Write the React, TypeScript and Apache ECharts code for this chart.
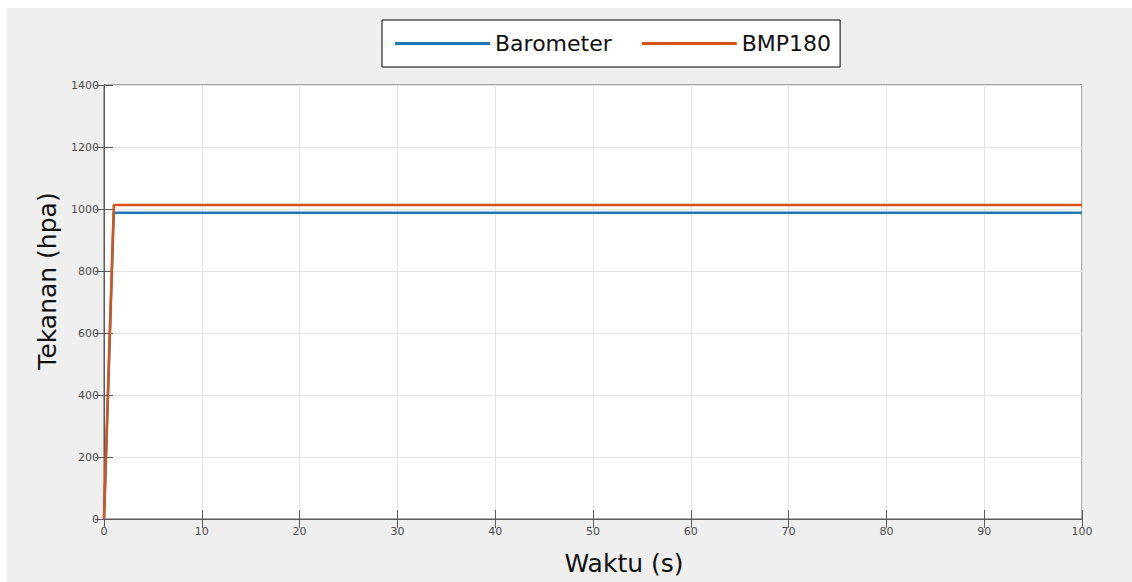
import React, { useEffect, useRef } from "react";
import * as echarts from "echarts";

const timeBarometer = [0, 1, 100];
const barometer = [0, 988, 988];
const timeBmp = [0, 1, 100];
const bmp180 = [0, 1013, 1013];
const seriesNames = ["Barometer", "BMP180"];
const xAxisName = "Waktu (s)";
const yAxisName = "Tekanan (hpa)";

const FONT = "DejaVu Sans, sans-serif";

export default function App() {
  const ref = useRef<HTMLDivElement>(null);
  useEffect(() => {
    if (!ref.current) return;
    const chart = echarts.init(ref.current, undefined, { renderer: "svg" });
    const axisLineColor = "#5a5a5a";
    const labelStyle = { color: "#4d4d4d", fontSize: 11, fontFamily: FONT };
    const plain = (v: number) => String(v);
    chart.setOption({
      animation: false,
      backgroundColor: "#efefef",
      textStyle: { fontFamily: FONT },
      grid: {
        left: 97,
        right: 50,
        top: 77,
        bottom: 63,
        show: true,
        backgroundColor: "#ffffff",
        borderColor: axisLineColor,
        borderWidth: 1,
      },
      legend: {
        data: seriesNames,
        left: 375,
        top: 12,
        padding: [12, 9, 12, 13],
        itemGap: 30,
        itemWidth: 95,
        itemHeight: 3,
        icon: "rect",
        borderColor: "#000",
        borderWidth: 1,
        backgroundColor: "#fff",
        textStyle: { color: "#111", fontSize: 22, fontFamily: FONT, lineHeight: 23 },
      },
      xAxis: [
        {
          type: "value",
          min: 0,
          max: 100,
          interval: 10,
          name: xAxisName,
          nameLocation: "middle",
          nameGap: 32,
          nameTextStyle: { color: "#111", fontSize: 25, fontFamily: FONT, padding: [0, 0, 0, 62] },
          axisLine: { show: true, lineStyle: { color: axisLineColor } },
          axisTick: { show: true, inside: true, length: 9, lineStyle: { color: axisLineColor } },
          axisLabel: { ...labelStyle, margin: 7, formatter: plain },
          splitLine: { show: true, lineStyle: { color: "#e3e3e3", width: 1 } },
        },
        {
          type: "value",
          position: "top",
          min: 0,
          max: 100,
          interval: 10,
          axisLine: { show: true, lineStyle: { color: axisLineColor } },
          axisTick: { show: true, inside: true, length: 9, lineStyle: { color: axisLineColor } },
          axisLabel: { show: false },
          splitLine: { show: false },
        },
      ],
      yAxis: [
        {
          type: "value",
          min: 0,
          max: 1400,
          interval: 200,
          name: yAxisName,
          nameLocation: "middle",
          nameGap: 43,
          nameTextStyle: { color: "#111", fontSize: 25, fontFamily: FONT, padding: [0, 0, 0, 42] },
          axisLine: { show: true, lineStyle: { color: axisLineColor } },
          axisTick: { show: true, inside: true, length: 9, lineStyle: { color: axisLineColor } },
          axisLabel: { ...labelStyle, margin: 5, formatter: plain },
          splitLine: { show: true, lineStyle: { color: "#e3e3e3", width: 1 } },
        },
        {
          type: "value",
          position: "right",
          min: 0,
          max: 1400,
          interval: 200,
          axisLine: { show: true, lineStyle: { color: axisLineColor } },
          axisTick: { show: true, inside: true, length: 9, lineStyle: { color: axisLineColor } },
          axisLabel: { show: false },
          splitLine: { show: false },
        },
      ],
      series: [
        {
          name: seriesNames[0],
          type: "line",
          data: timeBarometer.map((t, i) => [t, barometer[i]]),
          symbol: "none",
          itemStyle: { color: "#1f77b4" },
          lineStyle: { color: "#1f77b4", width: 2.5 },
          z: 2,
        },
        {
          name: seriesNames[1],
          type: "line",
          data: timeBmp.map((t, i) => [t, bmp180[i]]),
          symbol: "none",
          itemStyle: { color: "#d95319" },
          lineStyle: { color: "#d95319", width: 2.5 },
          z: 3,
        },
      ],
    });
    return () => chart.dispose();
  }, []);
  return (
    <div style={{ position: "fixed", left: 0, top: 0, width: 1132, height: 582, background: "#ffffff" }}>
      <div ref={ref} style={{ position: "absolute", left: 7, top: 8, width: 1125, height: 574 }} />
    </div>
  );
}
